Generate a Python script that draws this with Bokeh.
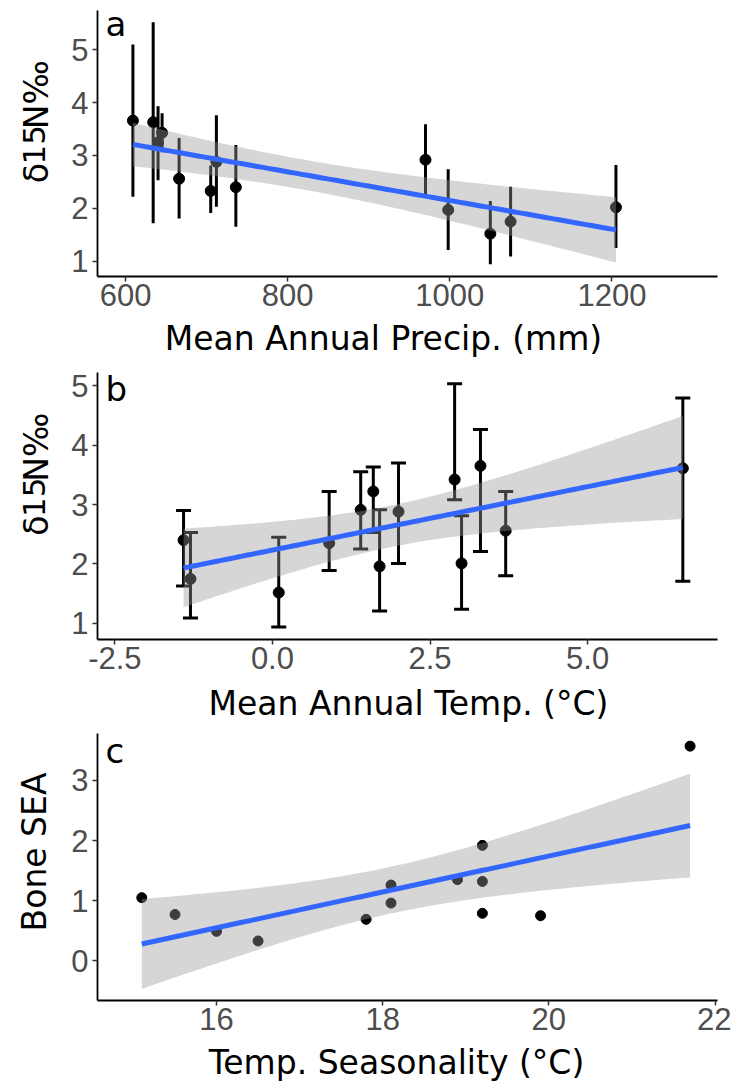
import numpy as np
from bokeh.plotting import figure
from bokeh.layouts import column, row
from bokeh.models import ColumnDataSource, Whisker, TeeHead, FixedTicker, Range1d
from bokeh.core.properties import value
from bokeh.embed import file_html
from bokeh.resources import INLINE

# ---------------- data ----------------
# Panel a: d15N vs mean annual precipitation
precip = [609, 634, 645, 640, 666, 705, 712, 736, 970, 998, 1050, 1075, 1205]
d15n_a = [3.66, 3.63, 3.43, 3.25, 2.56, 2.33, 2.88, 2.40, 2.92, 1.97, 1.52, 1.75, 2.02]
upper_a = [5.10, 5.52, 3.80, 3.93, 3.33, 2.81, 3.76, 3.20, 3.59, 2.74, 2.14, 2.41, 2.82]
lower_a = [2.22, 1.72, 3.06, 2.53, 1.81, 1.91, 2.03, 1.65, 2.25, 1.21, 0.94, 1.09, 1.25]

# Panel b: d15N vs mean annual temperature
temp = [-1.41, -1.30, 0.10, 0.90, 1.40, 1.60, 1.70, 2.00, 2.89, 3.00, 3.30, 3.70, 6.51]
d15n_b = [2.40, 1.75, 1.52, 2.35, 2.91, 3.22, 1.96, 2.88, 3.42, 2.01, 3.65, 2.56, 3.61]
upper_b = [2.90, 2.53, 2.45, 3.22, 3.55, 3.63, 2.91, 3.70, 5.03, 2.81, 4.26, 3.22, 4.79]
lower_b = [1.63, 1.09, 0.94, 1.89, 2.25, 2.53, 1.21, 2.01, 3.08, 1.24, 2.21, 1.80, 1.71]

# Panel c: bone SEA vs temperature seasonality
season = [15.1, 15.5, 16.0, 16.5, 17.8, 18.1, 18.1, 18.9, 19.2, 19.2, 19.2, 19.9, 21.7]
sea = [1.05, 0.77, 0.49, 0.33, 0.69, 1.26, 0.96, 1.35, 1.92, 1.32, 0.79, 0.75, 3.57]

ticks_a_x = [600, 800, 1000, 1200]
ticks_a_y = [1, 2, 3, 4, 5]
ticks_b_x = [-2.5, 0.0, 2.5, 5.0]
ticks_b_y = [1, 2, 3, 4, 5]
ticks_c_x = [16, 18, 20, 22]
ticks_c_y = [0, 1, 2, 3]

T975 = 2.201  # t quantile, df = 11


def lm_band(x, y, n=120):
    x = np.asarray(x, float)
    y = np.asarray(y, float)
    mx, my = x.mean(), y.mean()
    sxx = ((x - mx) ** 2).sum()
    b1 = ((x - mx) * (y - my)).sum() / sxx
    b0 = my - b1 * mx
    resid = y - (b0 + b1 * x)
    s = np.sqrt((resid ** 2).sum() / (len(x) - 2))
    xs = np.linspace(x.min(), x.max(), n)
    yh = b0 + b1 * xs
    se = s * np.sqrt(1.0 / len(x) + (xs - mx) ** 2 / sxx)
    return xs, yh, yh - T975 * se, yh + T975 * se


TITLE_FONT = "DejaVu Sans"
TICK_FONT = "Liberation Sans"
YT_W = 57
MAIN_W = 731 - YT_W
FRAME_W = 717 - 97
SHIFT = 12  # compensation for the renderer's baseline offset


def make_fig(h, frame_h, xr, yr, xt, yt, overrides=None):
    p = figure(width=MAIN_W, height=h, x_range=Range1d(*xr), y_range=Range1d(*yr),
               output_backend="svg", toolbar_location=None,
               min_border_left=97 - YT_W, min_border_right=14,
               min_border_top=10, min_border_bottom=h - 10 - frame_h)
    p.outline_line_color = None
    p.xgrid.visible = False
    p.ygrid.visible = False
    p.background_fill_color = "white"
    p.border_fill_color = "white"
    p.xaxis.ticker = FixedTicker(ticks=xt)
    p.yaxis.ticker = FixedTicker(ticks=yt)
    if overrides:
        p.xaxis.major_label_overrides = overrides
    for ax in (p.xaxis, p.yaxis):
        ax.axis_line_color = "black"
        ax.axis_line_width = 1.8
        ax.major_tick_line_color = "#333333"
        ax.major_tick_line_width = 1.5
        ax.major_tick_out = 5
        ax.major_tick_in = 0
        ax.minor_tick_line_color = None
        ax.major_label_text_font = TICK_FONT
        ax.major_label_text_font_size = "31px"
        ax.major_label_text_color = "#4D4D4D"
    p.xaxis.major_label_standoff = 2
    p.yaxis.major_label_standoff = 4
    return p


def text_fig(w, h):
    f = figure(width=w, height=h, x_range=Range1d(0, w), y_range=Range1d(0, h),
               output_backend="svg", toolbar_location=None, min_border=0,
               x_axis_location=None, y_axis_location=None)
    f.outline_line_color = None
    f.grid.visible = False
    f.background_fill_color = "white"
    f.border_fill_color = "white"
    return f


def add_fit(p, x, y):
    xs, yh, lo, hi = lm_band(x, y)
    src = ColumnDataSource(dict(x=xs, y=yh, lo=lo, hi=hi))
    p.varea(x="x", y1="lo", y2="hi", source=src, fill_color="#999999", fill_alpha=0.4)
    p.line(x="x", y="y", source=src, line_color="#3366FF", line_width=5)


def put_text(p, text, x, y, size="34px", align="center", angle=0.0):
    p.text(x=[x], y=[y], text=[text], text_font=value(TITLE_FONT), text_font_size=value(size),
           text_color="black", text_align=align, text_baseline="alphabetic", angle=angle)


def panel_letter(p, letter, xr, yr, frame_h, dx, dy_from_top):
    x = xr[0] + dx * (xr[1] - xr[0]) / FRAME_W
    y = yr[1] - (dy_from_top - SHIFT) * (yr[1] - yr[0]) / frame_h
    put_text(p, letter, x, y, align="left")


def delta_title(h, yc):
    # pieces centred along the rotated line: δ, raised 15, N‰
    f = text_fig(YT_W, h)
    bx = 48 - SHIFT
    put_text(f, "δ", bx, yc - 57, size="33px", align="center", angle=np.pi / 2)
    put_text(f, "15", bx - 3, yc - 23, size="31px", align="center", angle=np.pi / 2)
    put_text(f, "N‰", bx, yc + 37, size="33px", align="center", angle=np.pi / 2)
    return f


def x_title(h, text, xc, base):
    f = text_fig(731, h)
    put_text(f, text, xc, base + SHIFT, size="33px", align="center")
    return f


# ---------------- panel a ----------------
HA, FA = 319, 266
XRA, YRA = (565.3, 1330.3), (0.71, 5.744)
pa = make_fig(HA, FA, XRA, YRA, ticks_a_x, ticks_a_y)
src_a = ColumnDataSource(dict(x=precip, y=d15n_a, up=upper_a, lo=lower_a))
pa.segment(x0="x", y0="lo", x1="x", y1="up", source=src_a, line_color="black", line_width=3)
pa.scatter(x="x", y="y", source=src_a, size=11, color="black")
add_fit(pa, precip, d15n_a)
panel_letter(pa, "a", XRA, YRA, FA, 8, 25)
ya = delta_title(HA, HA - 138)
xa = x_title(362 - HA, "Mean Annual Precip. (mm)", 383, 362 - 350)

# ---------------- panel b ----------------
HB, FB = 320, 267
XRB, YRB = (-2.775, 7.06), (0.73, 5.22)
pb = make_fig(HB, FB, XRB, YRB, ticks_b_x, ticks_b_y,
              overrides={-2.5: "-2.5", 0: "0.0", 2.5: "2.5", 5: "5.0"})
src_b = ColumnDataSource(dict(x=temp, y=d15n_b, up=upper_b, lo=lower_b))
wb = Whisker(base="x", upper="up", lower="lo", source=src_b, dimension="height",
             line_color="black", line_width=3, level="underlay",
             upper_head=TeeHead(size=15, line_color="black", line_width=3),
             lower_head=TeeHead(size=15, line_color="black", line_width=3))
pb.add_layout(wb)
pb.scatter(x="x", y="y", source=src_b, size=11, color="black")
add_fit(pb, temp, d15n_b)
panel_letter(pb, "b", XRB, YRB, FB, 8, 28)
yb = delta_title(HB, HB - (488.5 - 362))
xb = x_title(723 - 362 - HB, "Mean Annual Temp. (°C)", 408, 723 - 715)

# ---------------- panel c ----------------
HC, FC = 320, 267
XRC, YRC = (14.567, 22.03), (-0.66, 3.78)
pc = make_fig(HC, FC, XRC, YRC, ticks_c_x, ticks_c_y)
pc.scatter(x=season, y=sea, size=10, color="black")
add_fit(pc, season, sea)
panel_letter(pc, "c", XRC, YRC, FC, 8, 29)
yc = text_fig(YT_W, HC)
put_text(yc, "Bone SEA", 46 - SHIFT, HC - 142, size="33px", align="center", angle=np.pi / 2)
xc = x_title(1082 - 723 - HC, "Temp. Seasonality (°C)", 396, 1082 - 1074)

layout = column(row(ya, pa), xa, row(yb, pb), xb, row(yc, pc), xc)
open("out.html", "w").write(file_html(layout, INLINE))
